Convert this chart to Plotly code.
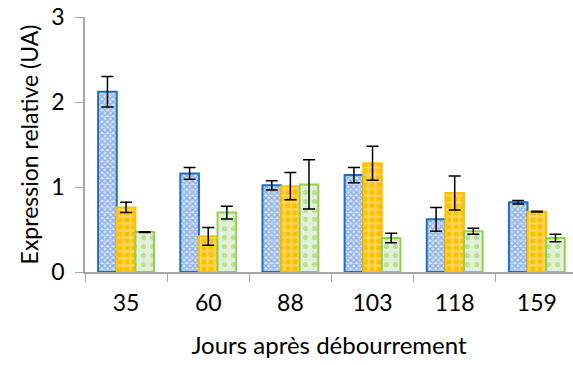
import plotly.graph_objects as go

categories = ["35", "60", "88", "103", "118", "159"]
blue_vals = [2.12, 1.16, 1.02, 1.14, 0.62, 0.82]
blue_err = [0.18, 0.07, 0.055, 0.09, 0.14, 0.02]
orange_vals = [0.76, 0.42, 1.01, 1.28, 0.93, 0.71]
orange_err = [0.06, 0.105, 0.16, 0.20, 0.20, 0.005]
green_vals = [0.47, 0.70, 1.03, 0.40, 0.48, 0.40]
green_err = [0.005, 0.075, 0.29, 0.055, 0.035, 0.045]

# (values, errors, outline colour, background, pattern shape, pattern fg, size, solidity)
series = [
    (blue_vals, blue_err, "#1F6FC0", "#D6E2F5", "x", "#3A78C9", 4, 0.55),
    (orange_vals, orange_err, "#FFC000", "#FFC000", "+", "#FFF0C2", 7, 0.5),
    (green_vals, green_err, "#92D050", "#E2F0D9", ".", "#92D050", 9, 0.25),
]

fig = go.Figure()
for vals, err, line_c, bg, shape, fg, size, sol in series:
    fig.add_trace(go.Bar(
        x=categories, y=vals,
        marker=dict(
            color=bg,
            line=dict(color=line_c, width=2),
            pattern=dict(shape=shape, fgcolor=fg, bgcolor=bg, size=size, solidity=sol, fillmode="overlay"),
        ),
        error_y=dict(type="data", array=err, visible=True, color="black", thickness=1.5, width=6),
        showlegend=False,
    ))

fig.update_layout(
    width=573, height=365,
    margin=dict(l=85, r=0, t=17, b=93),
    paper_bgcolor="white", plot_bgcolor="white",
    barmode="group", bargap=0.32, bargroupgap=0.0,
    font=dict(family="Lato, Open Sans, sans-serif", color="black", size=23),
    xaxis=dict(
        type="category", range=[-0.5, 5.44],
        showline=True, linecolor="#A6A6A6", linewidth=1.5,
        ticks="outside", tickson="boundaries", ticklen=8, tickcolor="#A6A6A6",
        tickfont=dict(size=23), ticklabelstandoff=10,
        title=dict(text="Jours après débourrement", font=dict(size=24), standoff=22),
    ),
    yaxis=dict(
        range=[0, 3], tickvals=[0, 1, 2, 3],
        showline=True, linecolor="#A6A6A6", linewidth=1.5,
        ticks="outside", ticklen=8, tickcolor="#A6A6A6",
        showgrid=False, zeroline=False,
        tickfont=dict(size=23), ticklabelstandoff=6,
        title=dict(text="Expression relative (UA)", font=dict(size=23), standoff=6),
    ),
)

fig.write_html("out.html", config={"displayModeBar": False},
               post_script="document.body.style.margin='0';")
